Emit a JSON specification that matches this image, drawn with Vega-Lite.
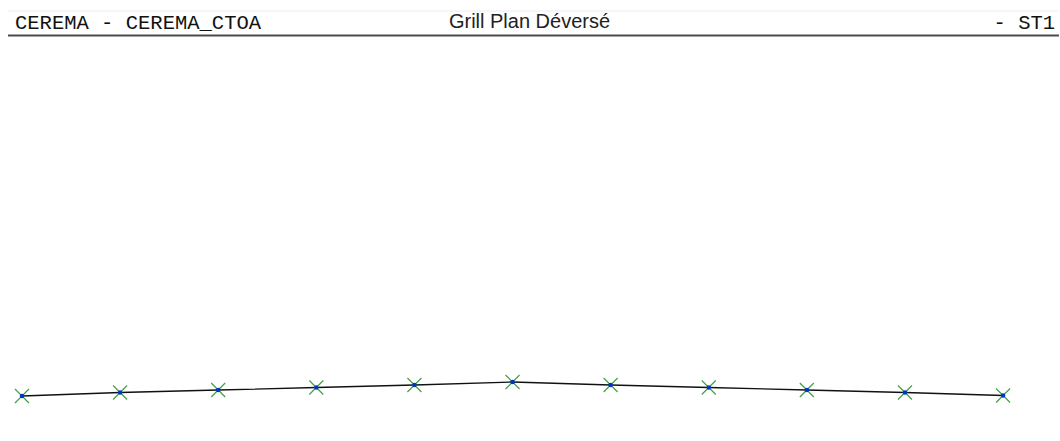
{
  "$schema": "https://vega.github.io/schema/vega-lite/v6.json",
  "width": 1060,
  "height": 441,
  "padding": 0,
  "autosize": {"type": "fit", "contains": "padding"},
  "background": "white",
  "config": {"view": {"stroke": null}},
  "datasets": {
    "profile": [
      {"station": 0, "elev": 45},
      {"station": 1, "elev": 48.5},
      {"station": 2, "elev": 51},
      {"station": 3, "elev": 53.5},
      {"station": 4, "elev": 56},
      {"station": 5, "elev": 59},
      {"station": 6, "elev": 56},
      {"station": 7, "elev": 53.5},
      {"station": 8, "elev": 51},
      {"station": 9, "elev": 48.5},
      {"station": 10, "elev": 45.5}
    ]
  },
  "layer": [
    {
      "data": {"values": [{"a": -0.143, "b": 10.57}]},
      "mark": {"type": "rule", "color": "#ececec", "strokeWidth": 1},
      "encoding": {
        "x": {"field": "a", "type": "quantitative", "scale": {"domain": [-0.224, 10.57], "nice": false, "zero": false}, "axis": null},
        "x2": {"field": "b"},
        "y": {"datum": 430, "type": "quantitative", "scale": {"domain": [0, 441], "nice": false, "zero": false}, "axis": null}
      }
    },
    {
      "data": {"values": [{"a": -0.143, "b": 10.57}]},
      "mark": {"type": "rule", "color": "#4a4a4a", "strokeWidth": 2},
      "encoding": {
        "x": {"field": "a", "type": "quantitative"},
        "x2": {"field": "b"},
        "y": {"datum": 405.5, "type": "quantitative"}
      }
    },
    {
      "data": {"values": [{"label": "CEREMA - CEREMA_CTOA"}]},
      "mark": {"type": "text", "align": "left", "baseline": "alphabetic", "font": "Liberation Mono", "fontSize": 20.5, "color": "#111111"},
      "encoding": {
        "x": {"datum": -0.071, "type": "quantitative"},
        "y": {"datum": 412, "type": "quantitative"},
        "text": {"field": "label"}
      }
    },
    {
      "data": {"values": [{"label": "Grill Plan Déversé"}]},
      "mark": {"type": "text", "align": "center", "baseline": "alphabetic", "font": "Liberation Sans", "fontSize": 20, "color": "#222222"},
      "encoding": {
        "x": {"datum": 5.173, "type": "quantitative"},
        "y": {"datum": 412.7, "type": "quantitative"},
        "text": {"field": "label"}
      }
    },
    {
      "data": {"values": [{"label": "- ST1"}]},
      "mark": {"type": "text", "align": "right", "baseline": "alphabetic", "font": "Liberation Mono", "fontSize": 20.5, "color": "#111111"},
      "encoding": {
        "x": {"datum": 10.53, "type": "quantitative"},
        "y": {"datum": 412, "type": "quantitative"},
        "text": {"field": "label"}
      }
    },
    {
      "data": {"name": "profile"},
      "mark": {"type": "line", "color": "#111111", "strokeWidth": 1.3},
      "encoding": {
        "x": {"field": "station", "type": "quantitative"},
        "y": {"field": "elev", "type": "quantitative"}
      }
    },
    {
      "data": {"name": "profile"},
      "mark": {"type": "point", "shape": "M-1,-1L1,1M-1,1L1,-1", "filled": false, "stroke": "#43a047", "strokeWidth": 1.2, "size": 196, "opacity": 1},
      "encoding": {
        "x": {"field": "station", "type": "quantitative"},
        "y": {"field": "elev", "type": "quantitative"}
      }
    },
    {
      "data": {"name": "profile"},
      "mark": {"type": "point", "shape": "circle", "filled": true, "color": "#0033cc", "size": 20, "opacity": 1},
      "encoding": {
        "x": {"field": "station", "type": "quantitative"},
        "y": {"field": "elev", "type": "quantitative"}
      }
    }
  ]
}
